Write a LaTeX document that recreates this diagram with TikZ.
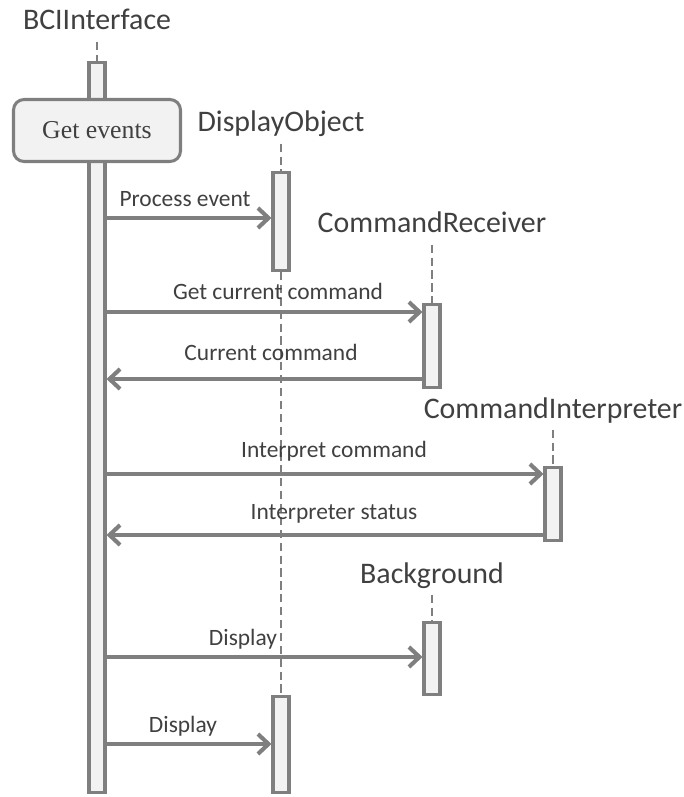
\documentclass[tikz,border=0pt]{standalone}
\usepackage{fontspec}
\newfontfamily\calfont{Carlito}
\newfontfamily\timesfont{Liberation Serif}
\usetikzlibrary{arrows.meta}
\definecolor{linegray}{HTML}{7F7F7F}
\definecolor{barfill}{HTML}{F2F2F2}
\definecolor{textgray}{HTML}{404040}
\begin{document}
\begin{tikzpicture}[x=0.03cm, y=-0.03cm,
    obj/.style={font=\calfont\fontsize{25.5}{30}\selectfont, text=textgray, anchor=base, inner sep=0pt},
    msglabel/.style={font=\calfont\fontsize{20}{24}\selectfont, text=textgray, anchor=base, inner sep=0pt},
    bar/.style={draw=linegray, fill=barfill, line width=2.6pt, minimum width=0.48cm, inner sep=0pt, anchor=north},
    life/.style={draw=linegray, line width=1.6pt, dash pattern=on 7pt off 4pt},
    msg/.style={draw=linegray, line width=3.5pt, -{Straight Barb[length=9pt,width=17pt]}}]
        \useasboundingbox (0,0) rectangle (683,797);
        \node[obj] (bci) at (97,30) {BCIInterface};
        \node[obj] (dobj) at (281,132) {DisplayObject};
        \node[obj] (crecv) at (432,233) {CommandReceiver};
        \node[obj] (cinterp) at (553,418) {CommandInterpreter};
        \node[obj] (bground) at (432,583) {Background};
        \node[bar, minimum height=21.9cm] (bcibar) at (97,61) {};
        \node[bar, minimum height=2.94cm] (dobj1) at (281,171) {};
        \node[bar, minimum height=2.49cm] (crecvbar) at (432,303) {};
        \node[bar, minimum height=2.19cm] (cinterpbar) at (553,466) {};
        \node[bar, minimum height=2.16cm] (bgroundbar) at (432,621) {};
        \node[bar, minimum height=2.88cm] (dobj2) at (281,695) {};
        \node[draw=linegray, fill=barfill, line width=2.6pt, rounded corners=9pt, minimum width=5.01cm, minimum height=1.86cm, font=\timesfont\fontsize{22}{26}\selectfont, text=textgray] (getev) at (97,130.5) {Get events};
        \draw[life] ([yshift=-10pt]bci.base) -- (bcibar.north);
        \draw[life] ([yshift=-10pt]dobj.base) -- (dobj1.north);
        \draw[life] (dobj1.south) -- (dobj2.north);
        \draw[life] ([yshift=-10pt]crecv.base) -- (crecvbar.north);
        \draw[life] ([yshift=-10pt]cinterp.base) -- (cinterpbar.north);
        \draw[life] ([yshift=-10pt]bground.base) -- (bgroundbar.north);
        \draw[msg] (bcibar.east |- 0,218) -- (dobj1.west |- 0,218);
        \draw[msg] (bcibar.east |- 0,312) -- (crecvbar.west |- 0,312);
        \draw[msg] (crecvbar.west |- 0,379) -- (bcibar.east |- 0,379);
        \draw[msg] (bcibar.east |- 0,474) -- (cinterpbar.west |- 0,474);
        \draw[msg] (cinterpbar.west |- 0,535) -- (bcibar.east |- 0,535);
        \draw[msg] (bcibar.east |- 0,657) -- (bgroundbar.west |- 0,657);
        \draw[msg] (bcibar.east |- 0,744) -- (dobj2.west |- 0,744);
        \node[msglabel] (lprocess) at (185,207) {Process event};
        \node[msglabel] (lgetcmd) at (278,300) {Get current command};
        \node[msglabel] (lcurcmd) at (271,360) {Current command};
        \node[msglabel] (linterp) at (334,457) {Interpret command};
        \node[msglabel] (lstatus) at (334,519) {Interpreter status};
        \node[msglabel] (ldisp1) at (243,645) {Display};
        \node[msglabel] (ldisp2) at (183,732) {Display};
    \end{tikzpicture}
\end{document}
